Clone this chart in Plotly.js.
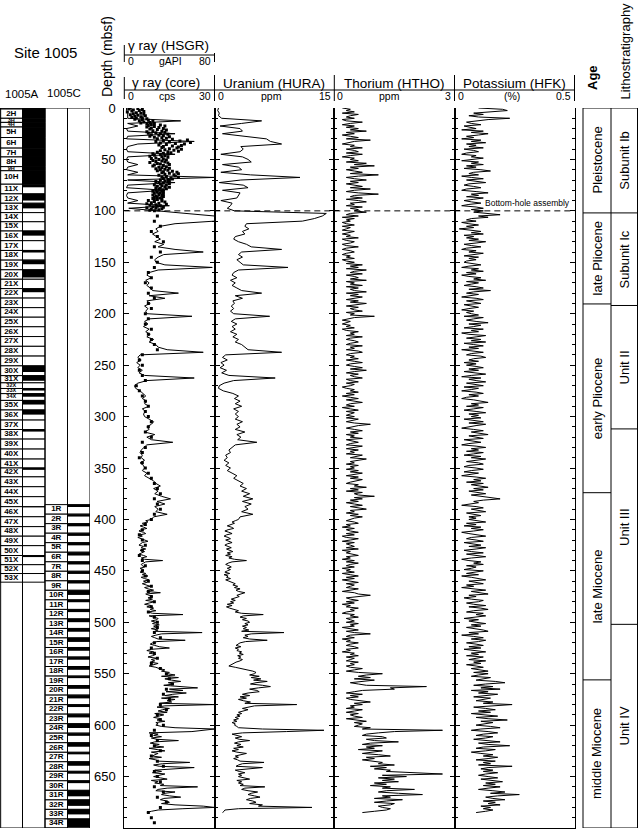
<!DOCTYPE html>
<html>
<head>
<meta charset="utf-8">
<script src="https://cdn.plot.ly/plotly-3.0.1.min.js"></script>
<style>
html,body{margin:0;padding:0;background:#fff;}
#chart{width:638px;height:832px;}
</style>
</head>
<body>
<div id="chart"></div>
<script>
// ---------------- Site 1005 downhole logs, core gamma ray, recovery, stratigraphy ----------------

// Gamma-ray and uranium logs above 400 m: 2.5 m sample grid (m below seafloor)
const LOG_TOP = 0, LOG_STEP = 2.5;
// Gamma-ray and uranium logs from 400 m, thorium and potassium throughout: 1.25 m grid
const DEEP_TOP = 400, FINE_TOP = 0, FINE_STEP = 1.25;

// HSGR total gamma ray (gAPI), 0–397.5 m
const hsgr = [
 2,2,3,3,3,50,3,12,2,3,45,3,2,62,12,3,2,3,45,3,
 2,3,12,3,2,12,3,80,3,45,3,2,36,3,2,3,12,3,40,4,
 30,50,80,80,80,45,32,28,30,25,28,32,27,35,30,45,70,35,30,27,
 28,36,78,30,22,20,24,19,22,20,23,25,48,22,36,20,23,18,21,19,
 20,60,22,18,21,17,22,19,23,20,26,22,28,30,38,70,14,12,15,11,
 14,12,16,13,18,62,20,12,9,10,14,17,19,16,20,18,22,16,19,17,
 18,22,26,24,20,22,18,27,20,24,43,20,17,15,14,16,15,18,14,17,
 18,16,20,18,22,26,28,32,26,30,27,33,41,29,36,27,30,28,38,26];
// HSGR 400–685 m, one row per 50 m
const hsgrDeep = [
 24,19,21,16,18,14,17,20,15,13,17,19,14,16,12,15,18,21,16,14,13,17,15,19,14,18,16,13,17,20,15,18,34,19,17,15,16,18,14,17,
 17,14,19,16,21,15,18,22,17,20,16,19,23,18,21,26,20,32,19,22,25,21,25,19,27,22,18,24,20,26,23,28,21,25,52,22,27,30,29,24,
 28,25,31,26,29,24,30,27,69,33,28,24,27,30,54,29,25,23,27,31,40,24,20,26,22,28,25,21,29,24,27,23,30,26,22,28,31,36,33,40,
 38,45,33,48,36,42,50,39,44,35,47,65,40,52,37,55,43,36,48,33,45,38,42,31,80,36,29,40,34,30,38,27,35,31,26,33,29,36,28,30,
 28,33,45,80,72,60,22,30,26,33,24,29,48,27,23,31,26,35,22,28,36,24,30,27,25,33,22,28,30,58,34,26,31,62,40,27,33,25,36,30,
 26,32,38,24,30,27,35,32,65,38,30,28,45,36,33,40,50,35,32,38,40,33,45,70,80,52,30,24,20];

// HURA uranium (ppm), 0–397.5 m
const hura = [
 0.5,0.4,0.6,0.5,0.9,5.9,3.4,0.7,3.2,3.5,1.0,4.0,6.5,7.0,8.4,3.3,3.6,3.2,0.8,3.5,
 4.2,4.6,1.0,3.0,3.4,0.8,4.5,10.7,3.3,0.6,3.6,4.2,1.0,3.2,3.0,2.8,0.8,2.2,2.0,1.6,
 2.5,14.0,13.5,12.5,11.0,4.0,3.8,4.3,3.5,3.8,2.6,2.4,3.0,4.0,4.6,8.4,3.4,3.0,3.5,2.8,
 3.2,3.6,9.2,3.0,2.4,2.2,2.8,2.0,2.6,2.2,2.8,3.4,5.9,2.6,3.5,2.3,2.5,2.1,2.4,2.0,
 2.4,6.9,2.6,2.1,2.8,2.2,2.6,2.0,2.8,2.3,3.0,2.6,3.4,3.8,4.2,8.4,1.4,1.0,1.6,0.8,
 1.2,0.7,1.5,0.9,1.8,7.6,2.4,1.2,0.6,0.5,1.1,2.3,3.0,2.5,3.2,2.6,3.4,2.4,3.0,2.6,
 3.0,2.6,3.5,2.8,3.2,2.6,3.8,2.8,3.3,2.9,5.3,2.6,2.2,1.8,2.0,1.4,1.6,1.2,1.8,1.4,
 2.0,1.6,2.2,2.8,2.4,3.0,3.6,3.2,4.0,3.4,4.4,3.6,4.8,3.5,4.6,3.8,4.2,3.4,4.8,3.2];
// HURA 400–685 m, one row per 50 m
const huraDeep = [
 3.0,2.6,2.2,2.5,1.9,1.6,2.1,2.4,1.7,1.3,1.8,2.2,1.5,1.2,1.7,2.0,1.4,1.8,2.2,1.6,1.3,1.7,2.1,1.5,1.9,2.3,1.6,2.0,1.4,2.2,1.8,2.5,4.0,2.2,1.7,1.4,1.8,2.1,1.6,2.0,
 1.6,1.3,1.9,1.2,1.7,1.5,2.0,1.4,1.8,2.2,2.6,2.3,2.9,2.5,3.2,2.7,3.0,3.8,3.3,2.8,3.1,2.5,2.1,2.6,2.0,2.4,1.6,2.2,1.5,1.9,2.4,3.0,2.6,3.4,6.1,3.6,3.2,4.0,3.5,4.2,
 4.4,3.8,4.2,3.5,4.0,3.6,4.3,3.4,8.7,4.6,3.8,4.2,3.6,4.4,6.6,3.9,3.2,3.0,2.7,3.3,2.6,3.0,2.8,3.4,3.1,3.6,2.9,3.3,3.0,3.5,3.2,2.7,2.4,2.0,1.8,2.6,3.5,4.2,4.8,5.2,
 5.0,4.4,5.6,4.6,5.8,4.9,6.6,5.2,4.5,6.0,7.0,5.5,4.4,5.3,5.6,4.2,3.5,4.4,3.2,4.0,3.0,3.6,4.5,3.8,10.3,5.0,4.0,3.5,4.2,3.6,3.0,3.4,2.8,3.2,2.6,3.0,2.4,2.8,2.2,2.6,
 2.5,2.8,3.0,6.0,13.7,9.0,3.5,2.2,2.8,3.4,2.6,3.1,4.4,3.0,2.5,3.3,2.8,3.6,2.4,3.0,2.2,2.8,4.0,3.2,2.6,3.0,2.4,2.9,3.2,6.2,3.5,3.0,2.7,6.0,3.6,2.6,3.1,3.8,3.0,3.4,
 3.0,3.6,4.4,2.8,3.4,3.0,3.6,3.2,6.3,3.8,3.4,4.2,5.4,4.6,4.2,5.0,5.7,4.5,4.0,4.8,5.2,4.4,6.0,5.5,12.2,3.0,1.3,1.2,1.0];

// HTHO thorium (ppm), 1.25 m grid, one row per 50 m
const htho = [
 0.2,0.4,0.3,0.5,0.2,0.6,0.4,0.3,0.5,0.2,0.3,0.7,0.4,0.2,0.5,0.3,0.6,0.4,0.8,0.3,0.5,0.2,0.4,0.6,0.3,0.9,0.5,0.3,0.2,0.5,0.4,0.7,0.3,0.5,0.6,0.3,0.7,0.4,0.2,0.5,
 0.4,0.6,0.3,0.8,0.5,1.0,0.4,0.6,0.3,0.5,0.7,0.4,1.1,0.6,0.3,0.5,0.8,0.4,0.6,0.3,0.5,0.7,0.4,0.9,0.5,0.3,0.6,1.1,0.5,0.4,0.7,0.3,0.6,0.8,0.4,0.5,0.3,0.7,0.4,0.6,
 0.5,0.8,0.4,0.3,0.6,0.2,0.5,0.3,0.4,0.2,0.3,0.5,0.2,0.4,0.3,0.2,0.5,0.3,0.2,0.4,0.3,0.6,0.2,0.3,0.5,0.4,0.2,0.3,0.6,0.3,0.2,0.4,0.5,0.3,0.2,0.4,0.3,0.5,0.2,0.3,
 0.5,0.3,0.7,0.4,0.6,0.3,0.8,0.5,0.4,0.7,0.3,0.5,0.6,0.4,0.8,0.3,0.5,0.4,0.7,0.3,0.6,0.4,0.5,0.8,0.3,0.6,0.4,0.7,0.5,0.3,0.6,0.4,0.8,0.5,0.3,0.6,0.4,0.5,0.7,0.3,
 0.5,0.4,1.0,0.5,0.3,0.2,0.4,0.3,0.2,0.4,0.3,0.5,0.2,0.3,0.6,0.4,0.5,0.3,0.7,0.4,0.3,0.5,0.6,0.4,0.3,0.7,0.4,0.5,0.3,0.6,0.7,0.4,0.3,0.5,0.4,0.6,0.3,0.5,0.7,0.4,
 0.3,0.5,0.7,0.4,0.8,0.5,0.3,0.6,0.4,0.5,0.7,0.3,0.4,0.6,0.3,0.5,0.4,0.2,0.3,0.5,0.4,0.6,0.3,0.5,0.2,0.4,0.6,0.3,0.5,0.7,0.4,0.3,0.5,0.2,0.4,0.6,0.3,0.5,0.4,0.3,
 0.5,0.3,0.6,0.4,0.3,0.5,0.9,0.6,0.4,0.3,0.5,0.7,0.4,0.6,0.3,0.5,0.4,0.7,0.3,0.5,0.6,0.4,0.3,0.7,0.5,0.3,0.6,0.4,0.5,0.3,0.7,0.5,0.4,0.8,0.6,0.4,0.5,0.3,0.6,0.4,
 0.5,0.3,0.6,0.4,0.7,0.5,0.3,0.6,0.4,0.7,0.5,0.4,0.3,0.6,0.5,0.8,0.4,0.6,0.3,0.7,0.5,0.6,1.0,0.5,0.7,0.4,0.6,0.3,0.5,0.7,0.4,0.6,0.8,0.4,0.5,0.3,0.6,0.4,0.7,0.5,
 0.4,0.3,0.5,0.6,0.3,0.4,0.2,0.5,0.3,0.4,0.6,0.3,0.5,0.2,0.3,0.6,0.4,0.2,0.5,0.3,0.4,0.5,0.3,0.6,0.2,0.4,0.3,0.5,0.6,0.3,0.4,0.2,0.5,0.3,0.6,0.4,0.3,0.5,0.2,0.4,
 0.3,0.5,0.2,0.4,0.6,0.3,0.5,0.2,0.4,0.6,0.3,0.5,0.4,0.3,0.6,0.4,0.2,0.5,0.6,0.9,0.5,0.3,0.4,0.6,0.3,0.5,0.2,0.4,0.3,0.6,0.4,0.5,0.3,0.2,0.5,0.4,0.6,0.3,0.4,0.5,
 0.3,0.6,0.4,0.5,0.2,0.4,0.6,0.3,0.5,0.9,0.4,0.3,0.5,0.2,0.4,0.3,0.6,0.4,0.3,0.5,0.6,0.3,0.4,0.2,0.5,0.4,0.6,0.3,0.5,0.4,0.3,0.6,0.4,0.5,0.3,0.4,0.7,0.5,0.3,0.6,
 1.2,0.8,0.6,0.9,0.5,1.0,0.7,0.4,0.6,0.8,2.3,1.4,1.5,0.7,0.5,0.3,0.7,0.4,0.6,0.3,0.4,0.6,0.9,0.5,0.7,0.4,0.5,0.3,0.7,0.5,0.3,0.6,0.4,0.5,0.7,0.3,0.6,0.8,0.5,0.7,
 0.6,0.5,0.9,0.7,2.7,1.5,1.1,0.8,0.7,1.2,1.3,0.8,1.0,1.6,0.9,0.7,1.2,0.8,1.0,0.6,1.2,0.9,0.7,1.1,1.4,0.8,1.0,0.7,0.9,1.2,1.1,1.5,0.9,1.3,1.0,1.4,1.3,2.0,2.7,1.2,
 1.8,1.1,1.5,1.2,1.6,1.0,1.3,0.9,1.4,1.2,2.0,1.3,1.1,1.6,2.2,1.2,1.4,1.0,1.7,1.3,1.0,1.5,1.4,1.1,1.2,1.4,1.3,1.0,0.7];

// HFK potassium (%), 1.25 m grid, one row per 50 m
const hfk = [
 0.10,0.20,0.22,0.15,0.08,0.12,0.06,0.10,0.23,0.14,0.09,0.05,0.07,0.11,0.04,0.06,0.09,0.03,0.12,0.07,0.14,0.10,0.05,0.08,0.03,0.11,0.07,0.13,0.05,0.09,0.06,0.12,0.04,0.08,0.10,0.05,0.03,0.09,0.07,0.12,
 0.06,0.03,0.10,0.07,0.12,0.05,0.09,0.04,0.11,0.15,0.08,0.06,0.10,0.03,0.07,0.12,0.05,0.09,0.13,0.06,0.04,0.08,0.11,0.05,0.03,0.09,0.14,0.07,0.10,0.05,0.12,0.08,0.04,0.07,0.11,0.06,0.03,0.09,0.12,0.07,
 0.12,0.08,0.15,0.19,0.10,0.14,0.07,0.05,0.09,0.03,0.06,0.10,0.05,0.08,0.02,0.06,0.11,0.07,0.12,0.04,0.08,0.05,0.10,0.06,0.13,0.09,0.04,0.07,0.11,0.05,0.03,0.09,0.06,0.12,0.08,0.04,0.10,0.06,0.09,0.05,
 0.04,0.08,0.11,0.06,0.03,0.10,0.07,0.12,0.05,0.09,0.03,0.06,0.11,0.08,0.13,0.05,0.10,0.07,0.04,0.09,0.12,0.06,0.15,0.08,0.05,0.10,0.07,0.03,0.09,0.12,0.05,0.08,0.11,0.04,0.07,0.10,0.06,0.03,0.08,0.05,
 0.07,0.10,0.04,0.12,0.08,0.05,0.09,0.14,0.06,0.11,0.08,0.04,0.12,0.07,0.10,0.03,0.06,0.13,0.09,0.05,0.11,0.07,0.13,0.04,0.08,0.12,0.06,0.10,0.03,0.09,0.12,0.07,0.05,0.11,0.13,0.08,0.06,0.10,0.04,0.09,
 0.05,0.09,0.12,0.06,0.10,0.04,0.08,0.13,0.07,0.03,0.11,0.06,0.09,0.13,0.05,0.08,0.12,0.04,0.10,0.07,0.03,0.09,0.12,0.06,0.10,0.05,0.03,0.08,0.11,0.14,0.07,0.10,0.05,0.12,0.08,0.04,0.09,0.13,0.06,0.10,
 0.07,0.11,0.04,0.08,0.12,0.06,0.13,0.09,0.05,0.03,0.08,0.12,0.07,0.10,0.14,0.06,0.09,0.12,0.04,0.08,0.11,0.06,0.03,0.09,0.13,0.07,0.10,0.05,0.12,0.08,0.04,0.11,0.07,0.13,0.09,0.05,0.10,0.12,0.06,0.04,
 0.09,0.12,0.07,0.04,0.10,0.06,0.03,0.09,0.13,0.08,0.11,0.05,0.12,0.07,0.10,0.14,0.08,0.12,0.06,0.09,0.13,0.07,0.11,0.14,0.19,0.12,0.08,0.10,0.06,0.03,0.09,0.12,0.07,0.10,0.13,0.05,0.08,0.11,0.06,0.09,
 0.06,0.10,0.13,0.05,0.09,0.04,0.11,0.07,0.12,0.08,0.03,0.06,0.10,0.13,0.07,0.05,0.09,0.12,0.04,0.08,0.11,0.06,0.13,0.09,0.04,0.07,0.12,0.05,0.10,0.13,0.07,0.03,0.06,0.11,0.08,0.12,0.05,0.09,0.07,0.04,
 0.12,0.08,0.05,0.10,0.03,0.07,0.11,0.13,0.06,0.09,0.12,0.05,0.08,0.03,0.10,0.13,0.07,0.11,0.14,0.06,0.09,0.04,0.07,0.12,0.10,0.05,0.08,0.13,0.06,0.11,0.14,0.08,0.05,0.12,0.09,0.13,0.07,0.04,0.10,0.06,
 0.09,0.13,0.07,0.11,0.05,0.09,0.12,0.14,0.06,0.10,0.03,0.08,0.12,0.07,0.13,0.10,0.05,0.09,0.12,0.06,0.11,0.04,0.08,0.13,0.07,0.10,0.05,0.12,0.09,0.06,0.13,0.08,0.11,0.05,0.09,0.12,0.07,0.10,0.14,0.08,
 0.14,0.10,0.07,0.15,0.12,0.09,0.17,0.21,0.13,0.08,0.16,0.11,0.19,0.07,0.14,0.10,0.18,0.12,0.08,0.15,0.11,0.09,0.16,0.12,0.24,0.14,0.08,0.13,0.17,0.10,0.15,0.07,0.12,0.18,0.09,0.14,0.22,0.11,0.16,0.13,
 0.09,0.15,0.19,0.11,0.07,0.14,0.18,0.12,0.09,0.16,0.13,0.08,0.15,0.19,0.10,0.14,0.23,0.12,0.09,0.17,0.13,0.07,0.11,0.16,0.12,0.18,0.14,0.09,0.17,0.12,0.15,0.10,0.24,0.14,0.11,0.16,0.12,0.18,0.13,0.10,
 0.14,0.18,0.11,0.16,0.20,0.13,0.17,0.12,0.19,0.14,0.10,0.16,0.21,0.15,0.27,0.18,0.13,0.16,0.21,0.12,0.17,0.14,0.19,0.11,0.15,0.12,0.16,0.13,0.09];

// Core (MST) natural gamma, cps: upper 100 m at 0.5 m spacing
const CORE_TOP = 0, CORE_STEP = 0.5;
const coreGrUpper = [
 2.0,4.5,1.5,6.0,3.0,5.0,2.5,6.5,1.0,4.0,5.5,3.0,6.5,2.0,4.5,7.0,3.5,5.5,2.5,6.0,
 4.0,7.5,3.5,6.0,8.0,5.0,9.5,6.5,8.5,5.5,10.0,7.5,9.0,12.0,8.0,13.5,10.0,7.5,11.5,9.0,
 13.0,8.5,11.0,14.0,9.5,12.5,7.5,13.5,10.5,8.0,12.0,14.5,9.0,11.5,13.0,8.5,15.0,10.0,12.5,14.0,
 11.0,16.0,21.0,13.0,18.5,10.5,15.0,22.0,12.0,17.0,20.0,14.0,11.5,19.0,16.0,13.0,18.0,12.5,17.5,15.0,
 19.0,13.5,16.5,12.0,18.0,14.5,11.0,15.5,13.0,9.5,14.5,12.0,10.0,13.5,8.5,12.5,14.5,10.5,9.0,13.0,
 11.5,14.0,9.5,12.5,10.5,13.5,8.5,14.5,11.0,12.0,15.0,10.0,13.0,9.5,14.0,11.5,12.5,15.0,10.5,13.5,
 12.0,14.5,11.0,16.0,13.0,17.5,12.5,15.0,18.0,13.5,16.5,11.5,17.0,14.0,12.5,18.0,15.5,13.0,16.0,14.5,
 12.0,15.0,13.5,10.5,14.5,11.5,13.0,15.0,12.0,10.0,14.0,12.5,11.0,13.5,15.0,10.5,12.0,14.0,11.5,13.0,
 10.5,12.5,9.5,13.0,11.0,12.0,10.0,13.0,11.5,9.5,12.5,10.5,13.0,11.0,10.0,12.0,9.5,12.5,11.0,10.0,
 8.0,12.5,10.0,13.5,9.0,11.5,7.5,14.0,10.5,8.5,12.0,11.0,9.5,13.0,7.5,10.5,12.5,9.0,11.5,8.5,
 10.0];
// Core natural gamma below 100 m, every 5 m from 105 m
const CORE_DEEP_TOP = 105, CORE_DEEP_STEP = 5;
const coreGrDeep = [
 11,10,12,9,11,13,10,12,9,11, 10,8,9,7,9,8,10,8,9,7,
 8,7,9,8,9,10,11,6,5,6, 5,6,7,4,5,6,7,8,7,8,
 9,8,7,9,6,7,6,5,6,7, 8,9,10,11,12,10,11,12,10,9,
 7,6,5,6,7,6,5,6,7,6, 7,8,9,8,9,10,9,8,10,11,
 11,10,12,10,9,10,11,9,12,14, 15,16,14,13,15,12,14,11,12,13,
 10,9,11,10,12,9,11,13,10,11, 12,10,13,11,14,12,8,9,10];

// Hole 1005A cores: names, top depths (m), recovered length (m)
const aNames = ['1H','2H','3H','4H','5H','6H','7H','8H','9H','10H',
 '11X','12X','13X','14X','15X','16X','17X','18X','19X','20X',
 '21X','22X','23X','24X','25X','26X','27X','28X','29X','30X',
 '31X','32X','33X','34X','35X','36X','37X','38X','39X','40X',
 '41X','42X','43X','44X','45X','46X','47X','48X','49X','50X',
 '51X','52X','53X'];
const aTops = [0,1,10,14,18.5,28.7,39,47.6,57,61,
 74.1,83.5,92.6,101.7,110.6,119.6,129,138.5,147.9,157.3,
 166.5,175.6,184.8,194.1,203.4,212.7,222.2,231.7,241.2,250.7,
 260.2,267.2,272.7,277.7,284.3,293.6,303.4,312.6,321.9,331.6,
 341.3,350,358.6,368.2,377.9,387.6,397.4,407,416.3,425.5,
 435.1,444,452.6];
const aBottom = 461;
const aRec = [1,9,4,4.5,10.2,10.3,8.6,9.4,4,13.1,
 3,6.5,5,0,0,4.5,0,2,4,7.5,
 0,3.5,0,0,0,0,0,0,0,6,
 5,0,2,3,4,4.5,0,2,0,0,
 0,1.8,0,0,0,0.6,0,0,0,0,
 1.5,0,0];

// Hole 1005C cores
const cNames = ['1R','2R','3R','4R','5R','6R','7R','8R','9R','10R',
 '11R','12R','13R','14R','15R','16R','17R','18R','19R','20R',
 '21R','22R','23R','24R','25R','26R','27R','28R','29R','30R',
 '31R','32R','33R','34R'];
const cTops = [385.6,394.9,404.1,413.4,422.6,431.9,441.2,450.4,459.7,468.9,
 478.2,487.5,496.7,506.0,515.2,524.5,533.8,543.0,552.3,561.5,
 570.8,580.1,589.3,598.6,607.8,617.1,626.4,635.6,644.9,654.1,
 663.4,672.7,681.9,691.2];
const cBottom = 700;
const cRec = [2.3,2.3,2.6,2.6,2.6,3.2,2.6,2.6,2.6,4.5,
 2.3,2.6,3.2,3.2,3.9,3.2,2.6,3.2,2.0,3.2,
 3.2,2.3,3.2,4.2,2.6,3.9,2.0,3.9,2.3,2.3,
 5.8,5.8,4.9,8.0];

// Age and lithostratigraphic units (top depths, m)
const ageNames = ['Pleistocene','late Pliocene','early Pliocene','late Miocene','middle Miocene'];
const ageTops = [0,102,190.5,374,556];
const lithNames = ['Subunit Ib','Subunit Ic','Unit II','Unit III','Unit IV'];
const lithTops = [0,102,192,312,502];
const BASE_DEPTH = 700;
const BHA_DEPTH = 100;

// ---------------- geometry helpers ----------------
const W = 638, H = 832;
const px = x => x / W;
const py = y => 1 - y / H;
const FONT = 'Liberation Sans, Arial, sans-serif';
const P = [124.3, 214.5, 334.3, 454.5, 574.5];   // log panel borders (px)
const YDOM = [py(828), py(108)];
const CORE_DOM = [px(0), px(90)];
const AGE_X0 = px(583), AGE_X1 = px(611), LITH_X1 = px(637.5);

// depth columns for each sampled series
const upperDepth = hsgr.map((_, i) => LOG_TOP + i * LOG_STEP);
const deepDepth = hsgrDeep.map((_, i) => DEEP_TOP + i * FINE_STEP);
const grDepth = upperDepth.concat(deepDepth);
const fineDepth = htho.map((_, i) => FINE_TOP + i * FINE_STEP);
const coreDepth = coreGrUpper.map((_, i) => CORE_TOP + i * CORE_STEP)
  .concat(coreGrDeep.map((_, i) => CORE_DEEP_TOP + i * CORE_DEEP_STEP));
const coreVals = coreGrUpper.concat(coreGrDeep);

const spans = (tops, bottom) => tops.map((t, i) => (i < tops.length - 1 ? tops[i + 1] : bottom) - t);
const aLen = spans(aTops, aBottom);
const cLen = spans(cTops, cBottom);

// ---------------- traces ----------------
const traces = [];
[[hsgr.concat(hsgrDeep), grDepth, 'x', 'y'], [hura.concat(huraDeep), grDepth, 'x2', 'y2'],
 [htho, fineDepth, 'x3', 'y3'], [hfk, fineDepth, 'x4', 'y4']].forEach(([v, d, xa, ya]) => {
  traces.push({type: 'scatter', mode: 'lines', x: v, y: d, xaxis: xa, yaxis: ya,
    line: {color: '#000', width: 1}, hoverinfo: 'skip', showlegend: false});
});
traces.push({type: 'scatter', mode: 'markers', x: coreVals, y: coreDepth, xaxis: 'x6', yaxis: 'y',
  marker: {symbol: 'square', size: 3, color: '#000', line: {width: 0}}, hoverinfo: 'skip', showlegend: false});

function coreBars(col, tops, lens, fill, lineW) {
  return {type: 'bar', orientation: 'v', x: tops.map(() => col), base: tops, y: lens, width: 1,
    xaxis: 'x5', yaxis: 'y5', marker: {color: fill, line: {color: '#000', width: lineW}},
    hoverinfo: 'skip', showlegend: false};
}
traces.push(coreBars(0.5, aTops, aLen, '#fff', 1));
traces.push(coreBars(1.5, aTops, aLen, '#fff', 1));
traces.push(coreBars(1.5, aTops, aRec, '#000', 0));
traces.push(coreBars(2.5, cTops, cLen, '#fff', 1));
traces.push(coreBars(3.5, cTops, cLen, '#fff', 1));
traces.push(coreBars(3.5, cTops, cRec, '#000', 0));
// core labels: squeezed type for short cores, none where there is no room
const labelSize = len => (len >= 7 ? 8 : 5.5);
traces.push({type: 'scatter', mode: 'text', x: aTops.map(() => 0.5), y: aTops.map((t, i) => t + aLen[i] / 2),
  text: aNames.map((n, i) => aLen[i] >= 2 ? '<b>' + n + '</b>' : ''),
  textfont: {family: FONT, size: aLen.map(labelSize), color: '#000'}, xaxis: 'x5', yaxis: 'y5',
  cliponaxis: false, hoverinfo: 'skip', showlegend: false});
traces.push({type: 'scatter', mode: 'text', x: cTops.map(() => 2.5), y: cTops.map((t, i) => t + cLen[i] / 2),
  text: cNames.map(n => '<b>' + n + '</b>'), textfont: {family: FONT, size: 8, color: '#000'}, xaxis: 'x5', yaxis: 'y5',
  cliponaxis: false, hoverinfo: 'skip', showlegend: false});

// ---------------- axes ----------------
function depthAxis(anchor, labels) {
  return {domain: YDOM, range: [BASE_DEPTH, 0], anchor: anchor, showline: true, linecolor: '#000', linewidth: 1,
    ticks: 'inside', ticklen: 5, tickcolor: '#000', tickwidth: 1, mirror: 'ticks', tick0: 0, dtick: 50,
    minor: {dtick: 10, ticks: 'inside', ticklen: 3, tickcolor: '#000', tickwidth: 1},
    showgrid: false, zeroline: false, showticklabels: labels,
    tickfont: {family: FONT, size: 13, color: '#000'}, ticklabelstandoff: 5};
}
function valueAxis(dom, range, anchor) {
  return {domain: dom, range: range, anchor: anchor, showline: true, linecolor: '#000', linewidth: 1,
    ticks: '', showticklabels: false, showgrid: false, zeroline: false};
}
const layout = {
  width: W, height: H, margin: {l: 0, r: 0, t: 0, b: 0},
  paper_bgcolor: '#fff', plot_bgcolor: 'rgba(0,0,0,0)',
  font: {family: FONT, color: '#000', size: 12},
  showlegend: false, barmode: 'overlay',
  xaxis: valueAxis([px(P[0]), px(P[1])], [0, 80], 'y'),
  xaxis2: valueAxis([px(P[1]), px(P[2])], [0, 15], 'y2'),
  xaxis3: valueAxis([px(P[2]), px(P[3])], [0, 3], 'y3'),
  xaxis4: valueAxis([px(P[3]), px(P[4])], [0, 0.5], 'y4'),
  xaxis5: {domain: CORE_DOM, range: [0, 4], anchor: 'y5', visible: false},
  xaxis6: {overlaying: 'x', range: [0, 30], anchor: 'y', visible: false},
  yaxis: depthAxis('x', true),
  yaxis2: depthAxis('x2', false),
  yaxis3: depthAxis('x3', false),
  yaxis4: depthAxis('x4', false),
  yaxis5: {domain: YDOM, range: [BASE_DEPTH, 0], anchor: 'x5', visible: false},
  shapes: [], annotations: []
};

// ---------------- frames and header furniture ----------------
const S = layout.shapes, A = layout.annotations;
const line = (x0, y0, x1, y1) => S.push({type: 'line', xref: 'paper', yref: 'paper',
  x0: px(x0), y0: py(y0), x1: px(x1), y1: py(y1), line: {color: '#000', width: 1}});

// core column frame
S.push({type: 'rect', xref: 'x5', yref: 'y5', x0: 0.03, x1: 4, y0: 0, y1: BASE_DEPTH, line: {color: '#000', width: 1}});
[1, 2, 3].forEach(c => S.push({type: 'line', xref: 'x5', yref: 'y5', x0: c, x1: c, y0: 0, y1: BASE_DEPTH,
  line: {color: '#000', width: 1}}));

// bottom-hole assembly
S.push({type: 'line', xref: 'paper', yref: 'y', x0: px(P[0]), x1: px(P[4]), y0: BHA_DEPTH, y1: BHA_DEPTH,
  line: {color: '#000', width: 1, dash: '6px,4px'}});
A.push({text: 'Bottom-hole assembly', xref: 'paper', yref: 'y', x: px(572), y: BHA_DEPTH, xanchor: 'right',
  yanchor: 'bottom', yshift: 1, showarrow: false, font: {family: FONT, size: 8.5, color: '#000'}});

// age / lithostratigraphy columns
S.push({type: 'rect', xref: 'paper', yref: 'y', x0: AGE_X0, x1: LITH_X1, y0: 0, y1: BASE_DEPTH, line: {color: '#000', width: 1}});
S.push({type: 'line', xref: 'paper', yref: 'y', x0: AGE_X1, x1: AGE_X1, y0: 0, y1: BASE_DEPTH, line: {color: '#000', width: 1}});
function unitColumn(names, tops, x0, x1) {
  tops.forEach((t, i) => {
    const b = i < tops.length - 1 ? tops[i + 1] : BASE_DEPTH;
    if (i > 0) S.push({type: 'line', xref: 'paper', yref: 'y', x0: x0, x1: x1, y0: t, y1: t, line: {color: '#000', width: 1}});
    A.push({text: names[i], xref: 'paper', yref: 'y', x: (x0 + x1) / 2, y: (t + b) / 2, textangle: -90,
      xanchor: 'center', yanchor: 'middle', showarrow: false, font: {family: FONT, size: 13, color: '#000'}});
  });
}
unitColumn(ageNames, ageTops, AGE_X0, AGE_X1);
unitColumn(lithNames, lithTops, AGE_X1, LITH_X1);

// header scales
const txt = (t, x, y, size, anchor, extra) => A.push(Object.assign({text: t, xref: 'paper', yref: 'paper',
  x: px(x), y: py(y), xanchor: anchor || 'center', yanchor: 'middle', showarrow: false, borderpad: 0,
  font: {family: FONT, size: size, color: '#000'}}, extra || {}));

line(P[0], 55, P[1], 55);
line(P[0], 45, P[0], 62);
line(P[1], 53, P[1], 62);
line(P[0], 90, P[4], 90);
line(P[0], 77, P[0], 99);
[P[1], P[2], P[3], P[4]].forEach(x => line(x, 75, x, 101));

txt('Site 1005', 45.5, 52.5, 15);
txt('1005A', 22, 94, 11.5);
txt('1005C', 64, 93, 11.5);
txt('Depth (mbsf)', 107, 56, 14, 'center', {textangle: -90});

txt('γ ray (HSGR)', 127, 45.5, 13.5, 'left');
txt('0', 126.5, 61, 10.5, 'left');
txt('gAPI', 170, 61, 10.5);
txt('80', 212, 61, 10.5, 'right');

txt('γ ray (core)', 131, 82.5, 13.5, 'left');
txt('0', 126.5, 96, 10.5, 'left');
txt('cps', 167, 96, 10.5);
txt('30', 212, 96, 10.5, 'right');

txt('Uranium (HURA)', 273.5, 83.5, 13.5);
txt('0', 216.5, 96.5, 10.5, 'left');
txt('ppm', 271, 96.5, 10.5);
txt('15', 332, 96.5, 10.5, 'right');

txt('Thorium (HTHO)', 394, 83.5, 13.5);
txt('0', 336.5, 96.5, 10.5, 'left');
txt('ppm', 389, 96.5, 10.5);
txt('3', 452, 96.5, 10.5, 'right');

txt('Potassium (HFK)', 514, 83.5, 13.5);
txt('0', 456.5, 96.5, 10.5, 'left');
txt('(%)', 512, 96.5, 10.5);
txt('0.5', 572, 96.5, 10.5, 'right');

txt('<b>Age</b>', 592, 78, 13, 'center', {textangle: -90});
txt('Lithostratigraphy', 625.5, 51, 13, 'center', {textangle: -90});

Plotly.newPlot('chart', traces, layout, {displayModeBar: false, staticPlot: true});
</script>
</body>
</html>
